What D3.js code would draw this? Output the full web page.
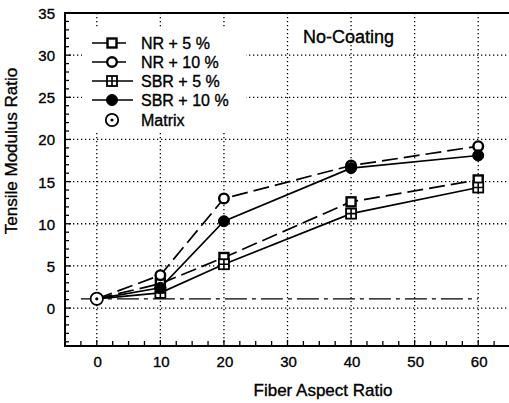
<!DOCTYPE html>
<html>
<head>
<meta charset="utf-8">
<script src="https://cdn.jsdelivr.net/npm/d3@7"></script>
<style>
  body { margin: 0; background: #fff; }
  svg text { font-family: "Liberation Sans", Arial, sans-serif; fill: #000; stroke: #000; stroke-width: 0.35px; }
</style>
</head>
<body>
<div id="chart"></div>
<script>
// values
var aspect = [0, 10, 20, 40, 60];
var nr5 = [1.1, 2.9, 6.0, 12.6, 15.2];
var nr10 = [1.1, 3.9, 13.0, 16.9, 19.2];
var sbr5 = [1.1, 1.8, 5.2, 11.2, 14.3];
var sbr10 = [1.1, 2.4, 10.3, 16.6, 18.1];
var matrixX = [0];
var matrixY = [1.1];
var matrixLineX = [-2.5, 60];
var xTicks = [0, 10, 20, 30, 40, 50, 60];
var yTicks = [0, 5, 10, 15, 20, 25, 30, 35];
var seriesNames = ["NR + 5 %", "NR + 10 %", "SBR + 5 %", "SBR + 10 %"];

var width = 509, height = 403;
var margins = { top: 13, right: -1, bottom: 57, left: 65 };

var svg = d3.select("#chart").append("svg")
  .attr("width", width)
  .attr("height", height);

var x = d3.scaleLinear().domain([-5, 65]).range([margins.left, width - margins.right]);
var y = d3.scaleLinear().domain([-4.5, 35]).range([height - margins.bottom, margins.top]);

var x0 = x.range()[0], x1 = x.range()[1], y0 = y.range()[0], y1 = y.range()[1];

// dotted grid
var grid = svg.append("g").attr("stroke", "#000").attr("stroke-width", 1.3)
  .attr("stroke-dasharray", "1.3,2.7");
grid.selectAll("line.v").data(xTicks).enter().append("line")
  .attr("x1", d => x(d)).attr("x2", d => x(d))
  .attr("y1", y1).attr("y2", y0);
grid.selectAll("line.h").data(yTicks.filter(d => d < 35)).enter().append("line")
  .attr("x1", x0).attr("x2", x1)
  .attr("y1", d => y(d)).attr("y2", d => y(d));

// minor ticks, pointing inward
var minorY = d3.range(-4, 35, 1);
var minorX = d3.range(-2.5, 65, 2.5);
svg.append("g").selectAll("line").data(minorY).enter().append("line")
  .attr("x1", x0).attr("x2", d => x0 + (d % 5 === 0 ? 6 : 4))
  .attr("y1", d => y(d)).attr("y2", d => y(d))
  .attr("stroke", "#000").attr("stroke-width", 1.3);
svg.append("g").selectAll("line").data(minorX).enter().append("line")
  .attr("x1", d => x(d)).attr("x2", d => x(d))
  .attr("y1", y0).attr("y2", d => y0 - (d % 10 === 0 ? 6 : 5))
  .attr("stroke", "#000").attr("stroke-width", 1.3);

// frame
svg.append("rect")
  .attr("x", x0).attr("y", y1)
  .attr("width", x1 - x0).attr("height", y0 - y1)
  .attr("fill", "none").attr("stroke", "#000").attr("stroke-width", 2);

// tick labels
svg.append("g").selectAll("text").data(xTicks).enter().append("text")
  .attr("x", d => x(d) + 1).attr("y", 367)
  .attr("text-anchor", "middle")
  .attr("font-size", 15)
  .text(d => d);
svg.append("g").selectAll("text").data(yTicks).enter().append("text")
  .attr("x", 55).attr("y", d => y(d) + 6)
  .attr("text-anchor", "end")
  .attr("font-size", 15)
  .text(d => d);

// axis titles
svg.append("text")
  .attr("x", 323).attr("y", 396)
  .attr("text-anchor", "middle")
  .attr("font-size", 17)
  .text("Fiber Aspect Ratio");
svg.append("text")
  .attr("transform", "translate(17,151) rotate(-90)")
  .attr("text-anchor", "middle")
  .attr("font-size", 17)
  .text("Tensile Modulus Ratio");

svg.append("text")
  .attr("x", 303).attr("y", 43)
  .attr("font-size", 18)
  .text("No-Coating");

// marker drawing
function marker(g, kind, cx, cy) {
  if (kind === "sq") {
    g.append("rect").attr("x", cx - 4.5).attr("y", cy - 4.5).attr("width", 9).attr("height", 9)
      .attr("fill", "#fff").attr("stroke", "#000").attr("stroke-width", 2.4);
  } else if (kind === "sqx") {
    g.append("rect").attr("x", cx - 5).attr("y", cy - 5).attr("width", 10).attr("height", 10)
      .attr("fill", "#fff").attr("stroke", "#000").attr("stroke-width", 1.8);
    g.append("path").attr("d", "M" + (cx - 5) + "," + cy + "H" + (cx + 5) + "M" + cx + "," + (cy - 5) + "V" + (cy + 5))
      .attr("stroke", "#000").attr("stroke-width", 1.6);
  } else if (kind === "circ") {
    g.append("circle").attr("cx", cx).attr("cy", cy).attr("r", 4.8)
      .attr("fill", "#fff").attr("stroke", "#000").attr("stroke-width", 2.4);
  } else if (kind === "dot") {
    g.append("circle").attr("cx", cx).attr("cy", cy).attr("r", 5.5)
      .attr("fill", "#000").attr("stroke", "#000").attr("stroke-width", 1);
  } else if (kind === "matrix") {
    g.append("circle").attr("cx", cx).attr("cy", cy).attr("r", 6.2)
      .attr("fill", "#fff").attr("stroke", "#000").attr("stroke-width", 1.8);
    g.append("circle").attr("cx", cx).attr("cy", cy).attr("r", 1.6).attr("fill", "#000");
  }
}

var series = [
  { name: seriesNames[0], values: nr5, dash: "16,6", kind: "sq" },
  { name: seriesNames[1], values: nr10, dash: "16,6", kind: "circ" },
  { name: seriesNames[2], values: sbr5, dash: null, kind: "sqx" },
  { name: seriesNames[3], values: sbr10, dash: null, kind: "dot" }
];

var line = d3.line().x(d => x(d[0])).y(d => y(d[1]));

// matrix reference line (long dash-dot)
svg.append("path")
  .datum(matrixLineX.map(d => [d, matrixY[0]]))
  .attr("d", line)
  .attr("fill", "none").attr("stroke", "#000").attr("stroke-width", 1.3)
  .attr("stroke-dasharray", "22,5,4,5");

series.forEach(function (s) {
  svg.append("path")
    .datum(aspect.map((a, i) => [a, s.values[i]]))
    .attr("d", line)
    .attr("fill", "none").attr("stroke", "#000").attr("stroke-width", 1.7)
    .attr("stroke-dasharray", s.dash);
});

var marks = svg.append("g");
series.forEach(function (s) {
  aspect.forEach(function (a, i) {
    if (a === 0) return;
    marker(marks, s.kind, x(a), y(s.values[i]));
  });
});
matrixX.forEach((a, i) => marker(marks, "matrix", x(a), y(matrixY[i])));

// legend with white background over the grid
var legend = svg.append("g");
legend.append("rect").attr("x", 82).attr("y", 28).attr("width", 164).attr("height", 104).attr("fill", "#fff");
var rowY = [43, 62, 81, 100, 120];
series.forEach(function (s, i) {
  legend.append("line")
    .attr("x1", 92).attr("x2", 133).attr("y1", rowY[i]).attr("y2", rowY[i])
    .attr("stroke", "#000").attr("stroke-width", 1.7)
    .attr("stroke-dasharray", s.dash ? "22,3,9" : null);
  marker(legend, s.kind, 112, rowY[i]);
  legend.append("text").attr("x", 141).attr("y", rowY[i] + 6)
    .attr("font-size", 16).text(s.name);
});
marker(legend, "matrix", 112, rowY[4]);
legend.append("text").attr("x", 141).attr("y", rowY[4] + 6)
  .attr("font-size", 16).text("Matrix");
</script>
</body>
</html>
